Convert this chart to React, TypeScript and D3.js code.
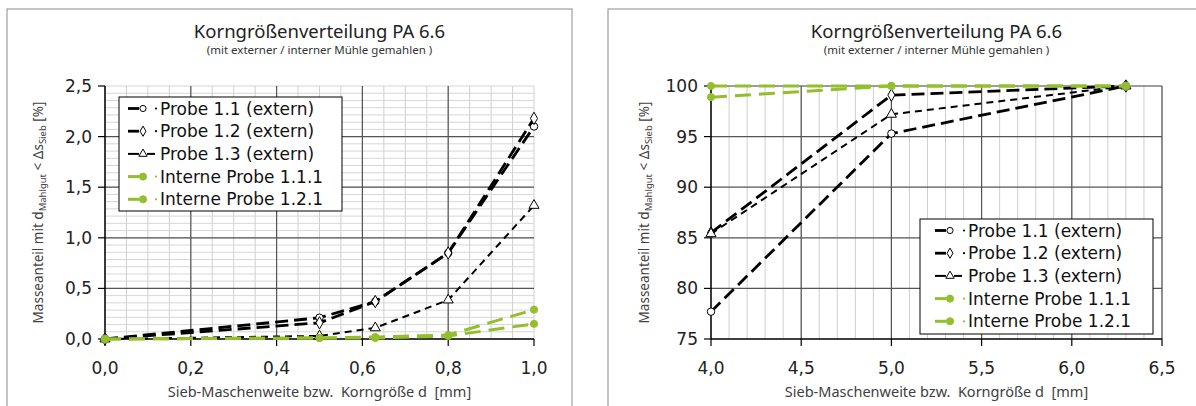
import * as d3 from "d3";

// ---- data ----
const leftSizes = [0, 0.5, 0.63, 0.8, 1.0];
const leftProbe11 = [0, 0.21, 0.37, 0.85, 2.1];
const leftProbe12 = [0, 0.16, 0.37, 0.85, 2.18];
const leftProbe13 = [0, 0.03, 0.11, 0.385, 1.32];
const leftIntern111 = [0, 0.01, 0.01, 0.03, 0.15];
const leftIntern121 = [0, 0.01, 0.02, 0.04, 0.29];

const rightSizes = [4.0, 5.0, 6.3];
const rightProbe11 = [77.7, 95.3, 100];
const rightProbe12 = [85.5, 99.1, 100];
const rightProbe13 = [85.4, 97.2, 100];
const rightIntern111 = [100, 100, 100];
const rightIntern121 = [98.9, 100, 100];

const seriesNames = [
  "Probe 1.1 (extern)",
  "Probe 1.2 (extern)",
  "Probe 1.3 (extern)",
  "Interne Probe 1.1.1",
  "Interne Probe 1.2.1",
];

const title = "Korngrößenverteilung PA 6.6";
const subtitle = "(mit externer / interner Mühle gemahlen )";
const xTitle = "Sieb-Maschenweite bzw.  Korngröße d  [mm]";

const GREEN = "#93bf2c";
const FONT = "'Noto Sans', sans-serif";
const WIDE = "'DejaVu Sans', sans-serif";

type Marker = "circle" | "diamond" | "triangle" | "dot";
type Style = { color: string; dash: string; width: number; marker: Marker };

const styles: Style[] = [
  { color: "#000", dash: "13 6", width: 2.8, marker: "circle" },
  { color: "#000", dash: "13 6", width: 2.8, marker: "diamond" },
  { color: "#000", dash: "7 5", width: 2, marker: "triangle" },
  { color: GREEN, dash: "16 8", width: 3, marker: "dot" },
  { color: GREEN, dash: "16 8", width: 3, marker: "dot" },
];

const symbolFor = (m: Marker, size = 44) => {
  const t =
    m === "diamond" ? d3.symbolDiamond : m === "triangle" ? d3.symbolTriangle : d3.symbolCircle;
  return d3.symbol().type(t).size(m === "dot" ? 40 : size)() || "";
};

const comma = (f: string) => (v: number) => d3.format(f)(v).replace(".", ",");

type ChartProps = {
  box: [number, number, number, number];
  plot: { left: number; right: number; top: number; bottom: number };
  xDomain: [number, number];
  yDomain: [number, number];
  xStep: number;
  yStep: number;
  xMinor: number;
  yMinor: number | null;
  xFmt: (v: number) => string;
  yFmt: (v: number) => string;
  xs: number[];
  values: number[][];
  legend: { x: number; y: number; w: number; h: number; pad: number; textX: number };
  edgeMajor: boolean;
};

const Chart = (p: ChartProps) => {
  const { plot } = p;
  const x = d3.scaleLinear().domain(p.xDomain).range([plot.left, plot.right]);
  const y = d3.scaleLinear().domain(p.yDomain).range([plot.bottom, plot.top]);
  const eps = 1e-6;
  const xTicks = d3.range(p.xDomain[0], p.xDomain[1] + eps, p.xStep);
  const yTicks = d3.range(p.yDomain[0], p.yDomain[1] + eps, p.yStep);
  const xMinor = d3.range(p.xDomain[0], p.xDomain[1] + eps, p.xMinor);
  const yMinor = p.yMinor ? d3.range(p.yDomain[0], p.yDomain[1] + eps, p.yMinor) : [];
  const cx = (plot.left + plot.right) / 2;
  const cy = (plot.top + plot.bottom) / 2;
  const line = d3
    .line<number>()
    .x((_, i) => x(p.xs[i]))
    .y((d) => y(d));

  const [bx, by, bw, bh] = p.box;
  const lg = p.legend;

  return (
    <g>
      <rect x={bx} y={by} width={bw} height={bh} fill="#fff" stroke="#8a8a8a" strokeWidth={1} />
      <text x={cx} y={38} textAnchor="middle" fontSize={18.5} fill="#222" fontFamily={FONT}>
        {title}
      </text>
      <text x={cx} y={54} textAnchor="middle" fontSize={11.5} fill="#333" fontFamily={FONT}>
        {subtitle}
      </text>

      {/* minor grid */}
      {xMinor.map((v, i) => (
        <line key={"xm" + i} x1={x(v)} x2={x(v)} y1={plot.top} y2={plot.bottom} stroke="#cfcfcf" strokeWidth={1} />
      ))}
      {yMinor.map((v, i) => (
        <line key={"ym" + i} x1={plot.left} x2={plot.right} y1={y(v)} y2={y(v)} stroke="#d6d6d6" strokeWidth={1} />
      ))}
      {p.yMinor === null && (
        <line x1={plot.left} x2={plot.right} y1={plot.top} y2={plot.top} stroke="#cfcfcf" />
      )}
      {/* major grid */}
      {xTicks
        .filter((v, i) => i > 0 && (p.edgeMajor || i < xTicks.length - 1))
        .map((v, i) => (
          <line key={"xM" + i} x1={x(v)} x2={x(v)} y1={plot.top} y2={plot.bottom} stroke="#555" strokeWidth={1.2} />
        ))}
      {yTicks
        .filter((v, i) => i > 0 && (p.edgeMajor || i < yTicks.length - 1))
        .map((v, i) => (
          <line key={"yM" + i} x1={plot.left} x2={plot.right} y1={y(v)} y2={y(v)} stroke="#555" strokeWidth={1.2} />
        ))}

      {/* axes */}
      <line x1={plot.left} x2={plot.left} y1={plot.top} y2={plot.bottom} stroke="#000" strokeWidth={1.5} />
      <line x1={plot.left} x2={plot.right} y1={plot.bottom} y2={plot.bottom} stroke="#000" strokeWidth={1.5} />
      {yTicks.map((v, i) => (
        <g key={"yt" + i}>
          <line x1={plot.left - 7} x2={plot.left} y1={y(v)} y2={y(v)} stroke="#000" strokeWidth={1.2} />
          <text x={plot.left - 13} y={y(v) + 6} textAnchor="end" fontSize={17} fill="#222" fontFamily={WIDE}>
            {p.yFmt(v)}
          </text>
        </g>
      ))}
      {xTicks.map((v, i) => (
        <g key={"xt" + i}>
          <line x1={x(v)} x2={x(v)} y1={plot.bottom} y2={plot.bottom + 7} stroke="#000" strokeWidth={1.2} />
          <text x={x(v)} y={374} textAnchor="middle" fontSize={17} fill="#222" fontFamily={WIDE}>
            {p.xFmt(v)}
          </text>
        </g>
      ))}
      <text
        x={cx}
        y={397}
        textAnchor="middle"
        fontSize={14.5}
        fill="#404040"
        fontFamily={FONT}
        style={{ whiteSpace: "pre" }}
      >
        {xTitle}
      </text>
      <text
        transform={`translate(${plot.left - 62},${cy}) rotate(-90)`}
        textAnchor="middle"
        fontSize={13.5}
        fill="#404040"
        fontFamily={FONT}
      >
        Masseanteil mit d
        <tspan fontSize={9.5} dy={3}>Mahlgut</tspan>
        <tspan dy={-3}> &lt; Δs</tspan>
        <tspan fontSize={9.5} dy={3}>Sieb</tspan>
        <tspan dy={-3}> [%]</tspan>
      </text>

      {/* series */}
      {p.values.map((vals, si) => {
        const st = styles[si];
        return (
          <g key={"s" + si}>
            <path d={line(vals) || ""} fill="none" stroke={st.color} strokeWidth={st.width} strokeDasharray={st.dash} />
            {vals.map((v, i) => (
              <path
                key={i}
                d={symbolFor(st.marker)}
                transform={`translate(${x(p.xs[i])},${y(v)})`}
                fill={st.marker === "dot" ? GREEN : "#fff"}
                stroke={st.marker === "dot" ? GREEN : "#000"}
                strokeWidth={1}
              />
            ))}
          </g>
        );
      })}

      {/* legend */}
      <rect x={lg.x} y={lg.y} width={lg.w} height={lg.h} fill="#fff" stroke="#000" strokeWidth={1} />
      {seriesNames.map((name, i) => {
        const st = styles[i];
        const ry = lg.y + 11.5 + i * 22.7;
        const sx = lg.x + lg.pad;
        return (
          <g key={"l" + i}>
            <line x1={sx} x2={sx + 11} y1={ry} y2={ry} stroke={st.color} strokeWidth={st.width} />
            {st.marker === "triangle" && (
              <line x1={sx + 19} x2={sx + 27} y1={ry} y2={ry} stroke={st.color} strokeWidth={st.width} />
            )}
            <path
              d={symbolFor(st.marker, 30)}
              transform={`translate(${sx + 15},${ry})`}
              fill={st.marker === "dot" ? GREEN : "#fff"}
              stroke={st.marker === "dot" ? GREEN : "#000"}
              strokeWidth={1}
            />
            {st.marker !== "triangle" && <circle cx={lg.x + lg.textX - 4} cy={ry} r={1.1} fill={st.color} />}
            <text x={lg.x + lg.textX} y={ry + 6} fontSize={17} fill="#111" fontFamily={WIDE}>
              {name}
            </text>
          </g>
        );
      })}
    </g>
  );
};

export default function App() {
  return (
    <svg
      width={1196}
      height={406}
      style={{ position: "fixed", left: 0, top: 0, background: "#fff" }}
    >
      <rect width={1196} height={406} fill="#fff" />
      <Chart
        box={[7, 9, 565, 420]}
        plot={{ left: 105, right: 534, top: 86, bottom: 339 }}
        xDomain={[0, 1]}
        yDomain={[0, 2.5]}
        xStep={0.2}
        yStep={0.5}
        xMinor={0.05}
        yMinor={0.5 / 7}
        xFmt={comma(".1f")}
        yFmt={comma(".1f")}
        xs={leftSizes}
        values={[leftProbe11, leftProbe12, leftProbe13, leftIntern111, leftIntern121]}
        legend={{ x: 119, y: 97, w: 223, h: 114, pad: 9, textX: 41 }}
        edgeMajor={false}
      />
      <Chart
        box={[608, 9, 600, 420]}
        plot={{ left: 711, right: 1162, top: 86, bottom: 339 }}
        xDomain={[4, 6.5]}
        yDomain={[75, 100]}
        xStep={0.5}
        yStep={5}
        xMinor={0.1}
        yMinor={null}
        xFmt={comma(".1f")}
        yFmt={d3.format("d")}
        xs={rightSizes}
        values={[rightProbe11, rightProbe12, rightProbe13, rightIntern111, rightIntern121]}
        legend={{ x: 920, y: 219, w: 233, h: 115, pad: 15, textX: 48 }}
        edgeMajor={true}
      />
    </svg>
  );
}
